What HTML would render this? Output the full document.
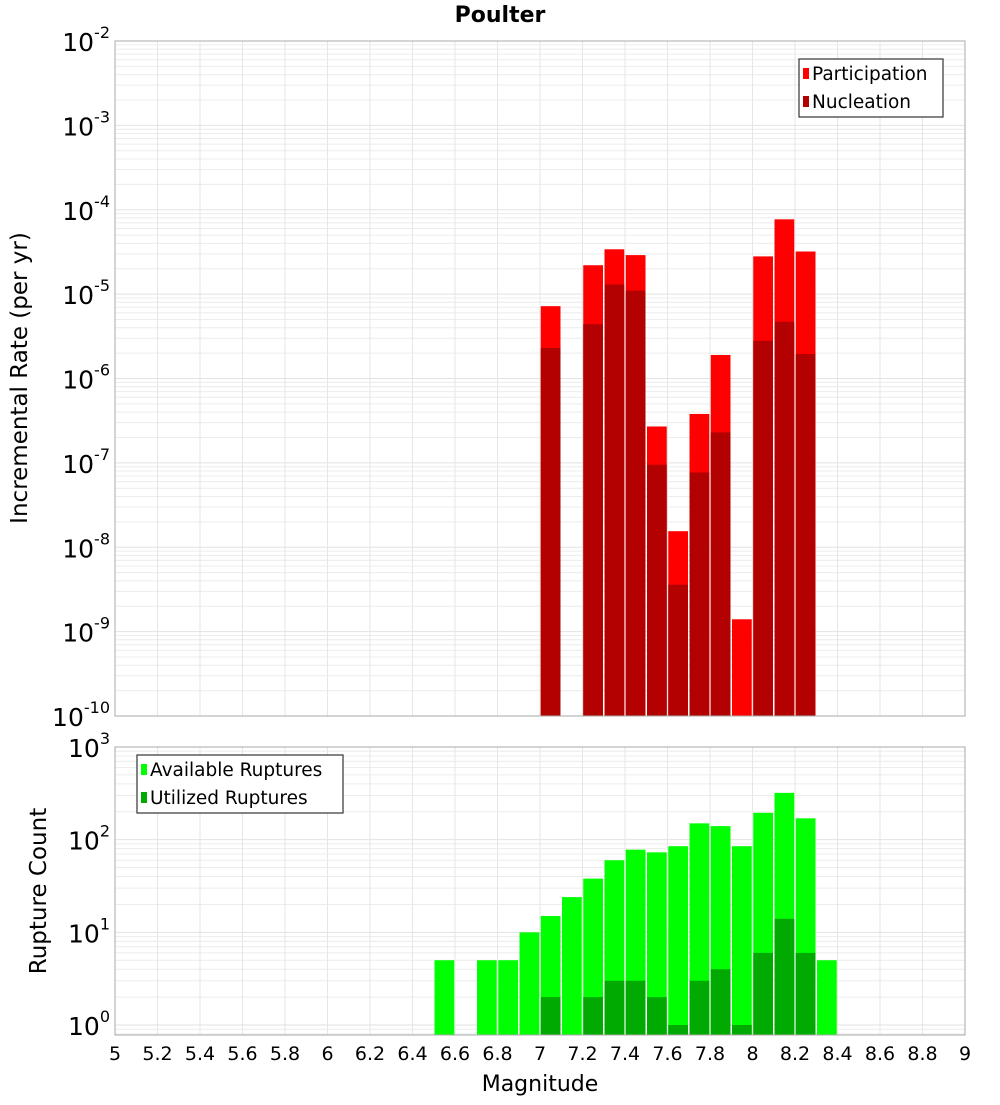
<!DOCTYPE html>
<html><head><meta charset="utf-8"><style>
body{margin:0;background:#fff;font-family:"Liberation Sans","DejaVu Sans",sans-serif}
svg text{font-family:"DejaVu Sans","Liberation Sans",sans-serif}
</style></head><body>
<svg id="c" width="1000" height="1100" xmlns="http://www.w3.org/2000/svg"></svg>
<script>
const mags=[7.0,7.2,7.3,7.4,7.5,7.6,7.7,7.8,7.9,8.0,8.1,8.2];
const participation=[7.2e-6,2.2e-5,3.4e-5,2.9e-5,2.7e-7,1.55e-8,3.8e-7,1.9e-6,1.4e-9,2.8e-5,7.7e-5,3.2e-5];
const nucleation=[2.3e-6,4.4e-6,1.3e-5,1.1e-5,9.5e-8,3.6e-9,7.7e-8,2.3e-7,0,2.8e-6,4.7e-6,1.95e-6];
const countMags=[6.5,6.7,6.8,6.9,7.0,7.1,7.2,7.3,7.4,7.5,7.6,7.7,7.8,7.9,8.0,8.1,8.2,8.3];
const available=[5,5,5,10,15,24,38,60,78,73,85,150,140,85,195,320,170,5];
const utilized=[0,0,0,0,2,0,2,3,3,2,1,3,4,1,6,14,6,0];
const xTicks=[5,5.2,5.4,5.6,5.8,6,6.2,6.4,6.6,6.8,7,7.2,7.4,7.6,7.8,8,8.2,8.4,8.6,8.8,9];
const topExps=[-10,-9,-8,-7,-6,-5,-4,-3,-2];
const botExps=[0,1,2,3];

const NS="http://www.w3.org/2000/svg";
const svg=document.getElementById('c');
function mk(tag,at,parent){const e=document.createElementNS(NS,tag);for(const k in at)e.setAttribute(k,at[k]);(parent||svg).appendChild(e);return e;}
const X0=115,X1=965;
const x=m=>X0+(m-5)/4*(X1-X0);
const T0=41,T1=716;
const yTop=v=>T1-(Math.log10(v)+10)/8*(T1-T0);
const B0=747,B1=1035,BZ=1025,BD=(BZ-B0)/3;
const yBot=v=>BZ-Math.log10(v)*BD;

function grid(y0,y1,expLo,expHi,yf){
  for(let e=expLo;e<=expHi;e++){for(let k=1;k<10;k++){const v=k*Math.pow(10,e);const yy=yf(v);if(yy<y0-0.5||yy>y1+0.5)continue;
    const l=mk('line',{x1:X0,x2:X1,y1:yy,y2:yy,stroke:k==1?'#e2e2e2':'#ececec','stroke-width':1});
    }}
  xTicks.forEach(t=>{const l=mk('line',{x1:x(t),x2:x(t),y1:y0,y2:y1,stroke:'#e6e6e6','stroke-width':1});
    });
}
grid(T0,T1,-10,-3,yTop);
grid(B0,B1,-1,2,yBot);

const bw=x(5.1)-x(5)-1.5;
mags.forEach((m,i)=>{
  const r=mk('rect',{x:x(m)+0.75,y:yTop(participation[i]),width:bw,height:T1-yTop(participation[i]),fill:'#ff0000'});
  
  if(nucleation[i]>0){const n=mk('rect',{x:x(m)+0.75,y:yTop(nucleation[i]),width:bw,height:T1-yTop(nucleation[i]),fill:'#b30000'});
  }
});
countMags.forEach((m,i)=>{
  const r=mk('rect',{x:x(m)+0.75,y:yBot(available[i]),width:bw,height:B1-yBot(available[i]),fill:'#00ff00'});
  
  if(utilized[i]>0){const n=mk('rect',{x:x(m)+0.75,y:yBot(utilized[i]),width:bw,height:B1-yBot(utilized[i]),fill:'#00aa00'});
  }
});

let f=mk('rect',{x:X0,y:T0,width:X1-X0,height:T1-T0,fill:'none',stroke:'#aaa'});

f=mk('rect',{x:X0,y:B0,width:X1-X0,height:B1-B0,fill:'none',stroke:'#aaa'});


function powLabel(e,yy,name){
  const t=mk('text',{x:110,y:yy+10,'text-anchor':'end','font-size':25,fill:'#000'});
  
  const a=document.createElementNS(NS,'tspan');a.textContent='10';t.appendChild(a);
  const b=document.createElementNS(NS,'tspan');b.setAttribute('dy','-13');b.setAttribute('font-size','16');b.textContent=String(e);t.appendChild(b);
}
topExps.forEach(e=>powLabel(e,yTop(Math.pow(10,e)),'y-tick-label'));
botExps.forEach(e=>powLabel(e,yBot(Math.pow(10,e)),'y-tick-label'));
xTicks.forEach(t=>{const l=mk('text',{x:x(t),y:1060,'text-anchor':'middle','font-size':19,fill:'#000'});l.textContent=String(t);
  });

let t=mk('text',{x:500,y:22,'text-anchor':'middle','font-size':22,'font-weight':'bold'});t.textContent='Poulter';

t=mk('text',{x:540,y:1091,'text-anchor':'middle','font-size':22});t.textContent='Magnitude';

t=mk('text',{x:0,y:0,'text-anchor':'middle','font-size':23,transform:'translate(27,378) rotate(-90)'});t.textContent='Incremental Rate (per yr)';

t=mk('text',{x:0,y:0,'text-anchor':'middle','font-size':23,transform:'translate(46,891) rotate(-90)'});t.textContent='Rupture Count';


function legend(x0,y0,w,items,name){
  const g=mk('g',{});
  mk('rect',{x:x0,y:y0,width:w,height:58,fill:'#fff',stroke:'#333','stroke-width':1.2},g);
  items.forEach((it,i)=>{
    const sw=mk('rect',{x:x0+4,y:y0+9+i*28,width:6,height:11,fill:it[1]},g);
    
    const tx=mk('text',{x:x0+13,y:y0+21+i*28,'font-size':18.5},g);tx.textContent=it[0];
    
  });
}
legend(799,59,144,[['Participation','#ff0000'],['Nucleation','#b30000']],'top-legend');
legend(137,755,206,[['Available Ruptures','#00ff00'],['Utilized Ruptures','#00aa00']],'bottom-legend');
</script>
</body></html>
